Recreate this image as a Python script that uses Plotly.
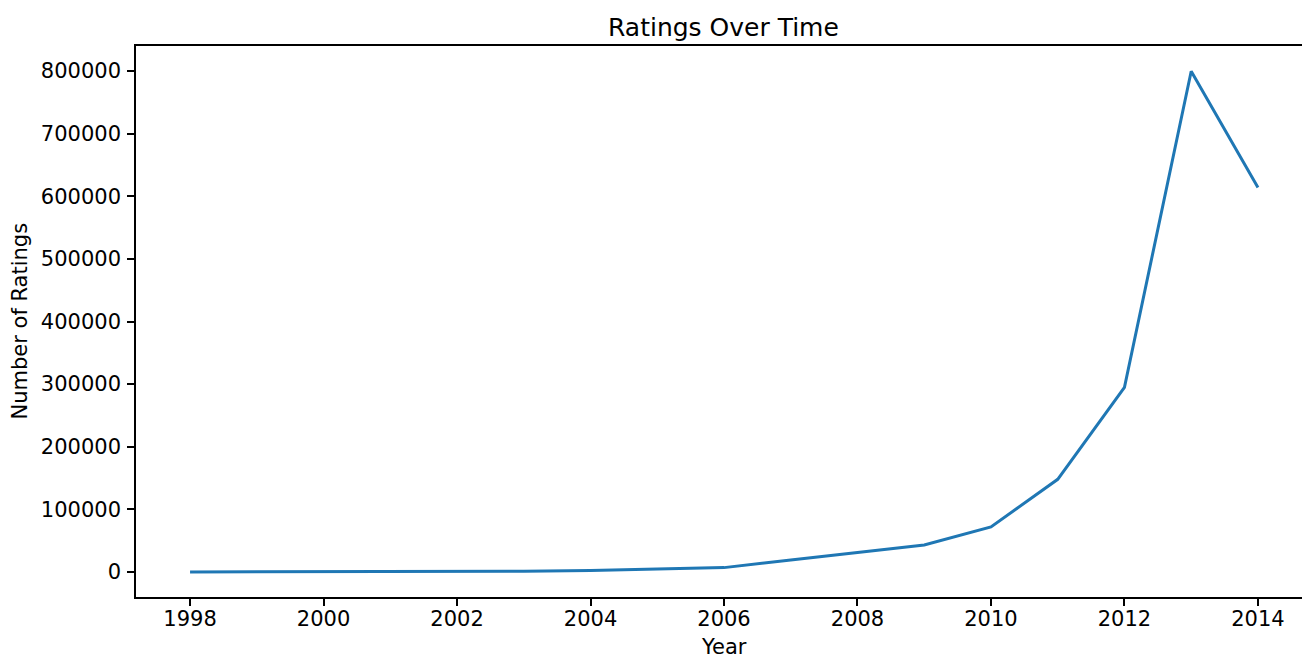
import plotly.graph_objects as go

years = list(range(1998, 2015))
ratings = [4, 20, 120, 300, 600, 1100, 2500, 4800, 7000, 19000, 31000, 43000,
           72000, 148000, 295000, 799500, 614000]
x_ticks = list(range(1998, 2015, 2))
y_ticks = [0, 100000, 200000, 300000, 400000, 500000, 600000, 700000, 800000]

font_family = "DejaVu Sans"

fig = go.Figure()
fig.add_trace(go.Scatter(x=years, y=ratings, mode="lines",
                         line=dict(color="#1f77b4", width=3)))

fig.update_layout(
    width=1302, height=655,
    margin=dict(l=136, r=0, t=46, b=58),
    paper_bgcolor="white", plot_bgcolor="white",
    showlegend=False,
    font=dict(family=font_family, size=21, color="#000000"),
    annotations=[
        dict(text="Ratings Over Time", xref="paper", yref="paper",
             x=0.5039, y=1, yshift=19, xanchor="center", yanchor="middle",
             showarrow=False, font=dict(size=25, family=font_family, color="#000")),
        dict(text="Year", xref="paper", yref="paper", x=0.5039, y=0,
             yshift=-36, xanchor="center", yanchor="top", showarrow=False,
             font=dict(size=21, family=font_family, color="#000")),
        dict(text="Number of Ratings", xref="paper", yref="paper", x=0, y=0.5,
             xshift=-131, xanchor="left", yanchor="middle", textangle=-90,
             showarrow=False, font=dict(size=21, family=font_family, color="#000")),
    ],
)

fig.update_xaxes(
    range=[1997.19, 2014.66], tickvals=x_ticks,
    ticktext=[str(v) for v in x_ticks],
    showgrid=False, zeroline=False,
    showline=True, linecolor="#000", linewidth=1.6, mirror=True,
    ticks="outside", ticklen=7, tickwidth=1.6, tickcolor="#000",
    ticklabelstandoff=-5,
    tickfont=dict(size=21, family=font_family, color="#000"),
)
fig.update_yaxes(
    range=[-39920, 839920], tickvals=y_ticks,
    ticktext=[str(v) for v in y_ticks],
    showgrid=False, zeroline=False,
    showline=True, linecolor="#000", linewidth=1.6, mirror=False,
    ticks="outside", ticklen=7, tickwidth=1.6, tickcolor="#000",
    ticklabelstandoff=2,
    tickfont=dict(size=21, family=font_family, color="#000"),
)

fig.write_html(
    "out.html",
    config={"displayModeBar": False},
    post_script="document.body.style.margin='0';document.body.style.overflow='hidden';",
)
